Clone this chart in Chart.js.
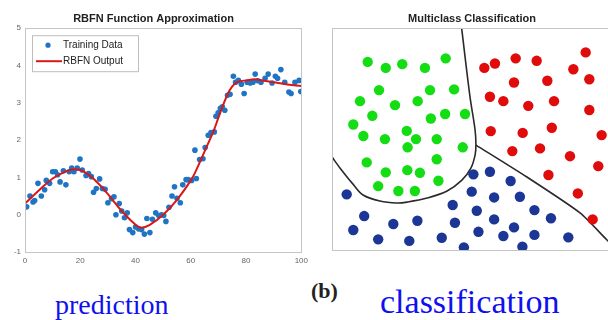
<!DOCTYPE html>
<html>
<head>
<meta charset="utf-8">
<script src="https://cdn.jsdelivr.net/npm/chart.js@4.4.1/dist/chart.umd.min.js"></script>
<style>
  html, body { margin: 0; padding: 0; background: #fff; width: 608px; height: 320px; overflow: hidden; position: relative; }
  .panel { position: absolute; top: 0; height: 272px; }
  #left { left: 0; width: 312px; }
  #right { left: 320px; width: 300px; }
  .caption { position: absolute; font-family: "Liberation Serif", "Times New Roman", serif; white-space: nowrap; line-height: 1; }
  #tag { left: 311px; top: 280px; font-size: 22px; font-weight: bold; color: #222; }
  #pred { left: 55px; top: 291px; font-size: 28px; color: #1010ee; }
  #cls { left: 380px; top: 285px; font-size: 34px; color: #1010ee; }
</style>
</head>
<body>
<div class="panel" id="left"><canvas id="approx"></canvas></div>
<div class="panel" id="right"><canvas id="classes"></canvas></div>
<div class="caption" id="tag">(b)</div>
<div class="caption" id="pred">prediction</div>
<div class="caption" id="cls">classification</div>
<script>
"use strict";

// ---------- Data: RBFN function approximation ----------
const trainX = [0.6, 1.8, 2.9, 3.5, 4.7, 5.9, 7.1, 7.7, 8.9, 10, 11, 11.8, 12.7, 13.9, 14.8, 16, 16.9, 17.7, 18.9, 19.9,
  20.7, 22.1, 23, 24, 24.8, 25.8, 27, 28, 29, 30, 31.3, 32.2, 32.9, 34.1, 35, 36, 37, 37.8, 39, 40,
  41.1, 42.2, 43.2, 44.1, 45.2, 46.1, 47.3, 48.4, 49.4, 50.2, 51, 52.1, 53.2, 54.1, 55, 56.2, 57.1, 58.3, 59, 60.3,
  61.5, 62, 63.2, 64.4, 65.2, 66.3, 67.3, 68.5, 69.1, 69.9, 70.7, 71.4, 72.3, 73.3, 74.2, 75.4, 76.2, 77.2, 78.3, 79.3,
  80.4, 81.5, 82.5, 83.3, 84.2, 85.4, 86.9, 88, 89.4, 90.6, 91.4, 92.6, 94, 95.5, 96.3, 97.7, 99.2, 99.8];
const trainY = [0.21, 0.5, 0.34, 0.38, 0.84, 0.5, 0.67, 0.92, 0.84, 1.15, 1.15, 1.07, 0.88, 1.18, 0.8, 1.15, 1.25, 1.15, 1.25, 1.49,
  1.2, 1.05, 1.1, 1.02, 0.6, 0.7, 0.96, 0.7, 0.68, 0.32, 0.43, 0.48, 0.0, 0.3, 0.1, -0.08, 0.05, -0.4, -0.48, -0.33,
  -0.38, -0.4, -0.52, -0.1, -0.48, -0.12, 0.05, -0.02, 0, -0.02, -0.18, 0.2, 0.5, 0.75, 0.44, 0.32, 0.8, 0.94, 0.94, 0.92,
  1.73, 0.97, 1.48, 1.5, 1.8, 2.13, 2.2, 2.22, 2.64, 2.73, 2.85, 2.89, 2.8, 3.2, 3.23, 3.71, 3.55, 3.6, 3.5, 3.25,
  3.55, 3.53, 3.55, 3.77, 3.59, 3.55, 3.66, 3.77, 3.53, 3.71, 3.66, 3.89, 3.55, 3.29, 3.25, 3.55, 3.6, 3.3];

const fitX = [0, 5, 10, 15, 18, 21, 25, 30, 35, 40, 42, 45, 50, 55, 60, 62, 65, 68, 70, 72, 74, 76, 78, 80, 83, 86, 90, 95, 100];
const fitY = [0.3, 0.65, 0.97, 1.17, 1.22, 1.17, 0.95, 0.55, 0.1, -0.27, -0.35, -0.28, 0.0, 0.4, 0.92, 1.2, 1.7, 2.2, 2.6, 3.0, 3.33, 3.52, 3.58, 3.6, 3.63, 3.6, 3.55, 3.49, 3.45];

const xTicks = [0, 20, 40, 60, 80, 100];
const yTicks = [-1, 0, 1, 2, 3, 4, 5];

// ---------- Data: multiclass classification (0..100 on both axes) ----------
const greenX = [12.75, 19.2, 25.1, 33.2, 40.6, 16.8, 35, 43.6, 10, 22.5, 30.6, 14.4, 35.3, 40.4, 47.5, 7.6,
  11.2, 18.9, 26.7, 30, 37.4, 27, 46.7, 12.4, 37.4, 19.2, 26.9, 31.4, 38, 16.5, 23.7, 29.6];
const greenY = [84.8, 82.1, 83.8, 82.1, 86.4, 72.1, 72.1, 72.4, 67.1, 65.3, 67.1, 60.5, 59.3, 61.3, 61.3, 56.6,
  51.4, 50, 53.7, 50, 50, 46.3, 46.3, 39.5, 40.9, 35, 36, 34.8, 31.2, 28.8, 26.6, 26.6];

const redX = [54.4, 58.2, 65.6, 73.1, 90.6, 86.2, 91.9, 65, 76.9, 56.4, 61.2, 70.1, 79.3, 91.9, 56.7, 68.1,
  78.5, 96.3, 64.4, 74.3, 85, 95.1, 77.3, 87.8, 93.1];
const redY = [82.1, 84.1, 86.4, 85.3, 89.1, 81.5, 77, 75.5, 76.3, 69.1, 67.1, 65, 67.1, 63.1, 53.6, 52.8,
  55.1, 51.8, 44.6, 45.8, 42.3, 37.8, 33.8, 25.5, 13.8];

const blueX = [5.25, 11.5, 7.6, 16.5, 21.9, 27.6, 30.5, 39.2, 43.1, 43.9, 47.1, 49.9, 50.5, 51.7, 52.3, 56.4,
  57.9, 57.9, 61.2, 63.8, 65, 67.1, 68, 72.3, 72.3, 78.2, 84.4];
const blueY = [25.1, 15.3, 9, 4.8, 11.7, 4.1, 13.2, 5.5, 20.3, 12.3, 1.2, 26.3, 34.1, 17.7, 8.2, 35.3,
  23.7, 13.8, 6.3, 31.1, 10.2, 24, 1.5, 18, 6.8, 14.3, 5.7];

// boundary around the green class, then the red/blue split
const curveX = [46.3, 49.3, 51.1, 51.4, 51.1, 49.6, 46.4, 41.1, 33.9, 26.8, 23.2, 17.1, 11.1, 7.5, 2.9, 0];
const curveY = [100, 68.9, 54.1, 47.3, 42.8, 36.9, 31.5, 26.6, 23.4, 21.6, 21.2, 22.1, 24.8, 29.7, 36.9, 41.9];
const splitX = [51.4, 69.6, 88.6, 98.2, 100];
const splitY = [47.3, 32.9, 16.7, 4.5, 2.3];

// ---------- Helpers ----------
const zip = (xs, ys) => xs.map((x, i) => ({ x, y: ys[i] }));

const frame = {
  id: "frame",
  afterDatasetsDraw(chart) {
    const a = chart.chartArea, ctx = chart.ctx;
    ctx.save();
    ctx.strokeStyle = "#c4c4c4";
    ctx.lineWidth = 1;
    ctx.strokeRect(Math.round(a.left) + 0.5, Math.round(a.top) + 0.5, Math.round(a.width), Math.round(a.height));
    ctx.restore();
  },
};

// small boxed legend drawn inside the plot, top-left
const boxLegend = {
  id: "boxLegend",
  afterDraw(chart) {
    const a = chart.chartArea, ctx = chart.ctx;
    const x0 = a.left + 7, y0 = a.top + 7, w = 106, h = 36;
    const items = [chart.data.datasets[1], chart.data.datasets[0]]; // dots first, then line
    ctx.save();
    ctx.fillStyle = "#fff";
    ctx.fillRect(x0, y0, w, h);
    ctx.strokeStyle = "#bdbdbd";
    ctx.lineWidth = 1;
    ctx.strokeRect(x0 + 0.5, y0 + 0.5, w, h);
    ctx.font = "10px 'Liberation Sans', Arial, sans-serif";
    ctx.textBaseline = "middle";
    items.forEach((ds, i) => {
      const cy = y0 + 10 + i * 16;
      if (ds.showLine) {
        ctx.strokeStyle = ds.borderColor;
        ctx.lineWidth = 2;
        ctx.beginPath();
        ctx.moveTo(x0 + 4, cy);
        ctx.lineTo(x0 + 30, cy);
        ctx.stroke();
      } else {
        ctx.fillStyle = ds.backgroundColor;
        ctx.beginPath();
        ctx.arc(x0 + 16, cy, 2.6, 0, Math.PI * 2);
        ctx.fill();
      }
      ctx.fillStyle = "#222";
      ctx.fillText(ds.label, x0 + 31, cy);
    });
    ctx.restore();
  },
};

const titleFont = { family: "'Liberation Sans', Arial, sans-serif", size: 11, weight: "bold" };

// ---------- Left: function approximation ----------
new Chart(document.getElementById("approx"), {
  type: "scatter",
  data: {
    datasets: [
      { label: "RBFN Output", data: zip(fitX, fitY), showLine: true, borderColor: "#d81818", backgroundColor: "#d81818", borderWidth: 2, pointRadius: 0, tension: 0.4 },
      { label: "Training Data", data: zip(trainX, trainY), backgroundColor: "#1f74c4", borderWidth: 0, pointRadius: 2.8 },
    ],
  },
  options: {
    responsive: true,
    maintainAspectRatio: false,
    animation: false,
    layout: { padding: { left: 0, right: 5, top: 0, bottom: 0 } },
    plugins: {
      legend: { display: false },
      tooltip: { enabled: false },
      title: { display: true, text: "RBFN Function Approximation", color: "#222", font: titleFont, padding: { top: 12, bottom: 3 } },
    },
    scales: {
      x: {
        type: "linear", min: 0, max: 100,
        afterBuildTicks: (s) => { s.ticks = xTicks.map((v) => ({ value: v })); },
        afterFit: (s) => { s.height = 20; },
        grid: { display: false, drawTicks: false },
        border: { display: false },
        ticks: { color: "#666", font: { size: 8 }, padding: 4 },
      },
      y: {
        min: -1, max: 5,
        afterBuildTicks: (s) => { s.ticks = yTicks.map((v) => ({ value: v })); },
        afterFit: (s) => { s.width = 25; },
        grid: { display: false, drawTicks: false },
        border: { display: false },
        ticks: { color: "#666", font: { size: 8 }, padding: 4 },
      },
    },
  },
  plugins: [frame, boxLegend],
});

// ---------- Right: multiclass classification ----------
new Chart(document.getElementById("classes"), {
  type: "scatter",
  data: {
    datasets: [
      { label: "Class A", data: zip(greenX, greenY), backgroundColor: "#14dd14", borderWidth: 0, pointRadius: 5.2 },
      { label: "Class B", data: zip(redX, redY), backgroundColor: "#e00b0b", borderWidth: 0, pointRadius: 5.2 },
      { label: "Class C", data: zip(blueX, blueY), backgroundColor: "#1c3695", borderWidth: 0, pointRadius: 5.2 },
      { label: "Boundary", data: zip(curveX, curveY), showLine: true, borderColor: "#2a2a2a", borderWidth: 1.6, pointRadius: 0, tension: 0.35 },
      { label: "Boundary 2", data: zip(splitX, splitY), showLine: true, borderColor: "#2a2a2a", borderWidth: 1.6, pointRadius: 0, tension: 0.2 },
    ],
  },
  options: {
    responsive: true,
    maintainAspectRatio: false,
    animation: false,
    layout: { padding: { left: 12, right: 8, top: 0, bottom: 22 } },
    plugins: {
      legend: { display: false },
      tooltip: { enabled: false },
      title: { display: true, text: "Multiclass Classification", color: "#222", font: titleFont, padding: { top: 12, bottom: 3 } },
    },
    scales: {
      x: { type: "linear", min: 0, max: 100, display: false },
      y: { min: 0, max: 100, display: false },
    },
  },
  plugins: [frame],
});
</script>
</body>
</html>
